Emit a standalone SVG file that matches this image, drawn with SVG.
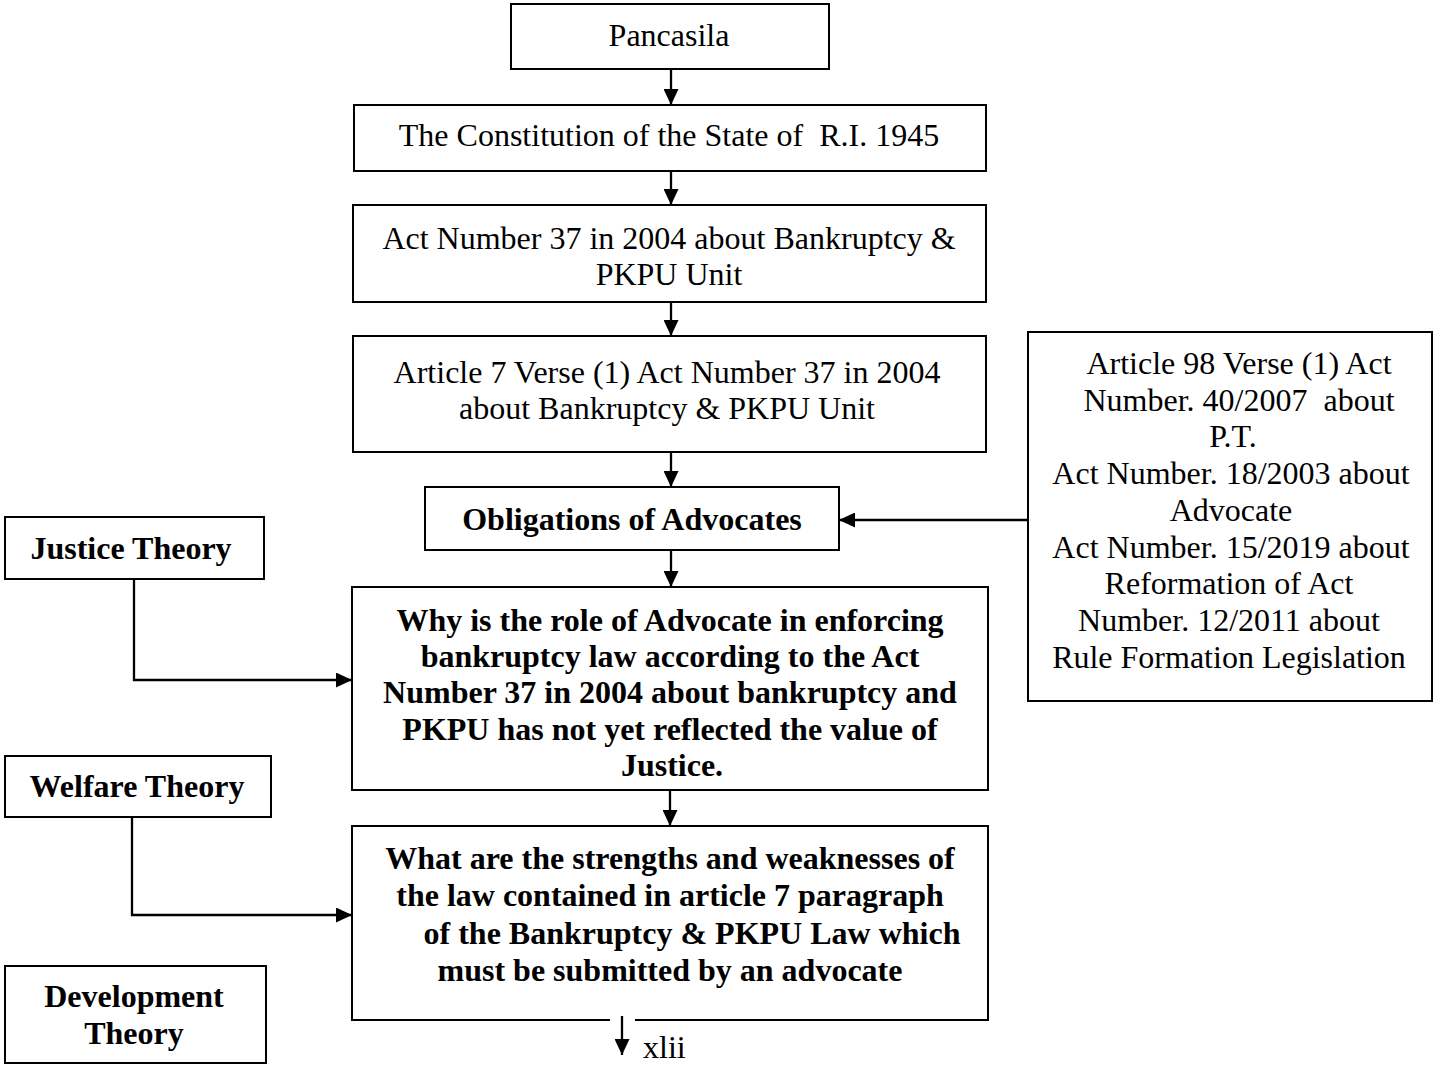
<svg xmlns="http://www.w3.org/2000/svg" width="1433" height="1065" viewBox="0 0 1433 1065">
<defs>
<marker id="ah" viewBox="0 0 16 15" refX="16" refY="7.5" markerWidth="16" markerHeight="15" markerUnits="userSpaceOnUse" orient="auto">
<path d="M0,0 L16,7.5 L0,15 Z" fill="#000"/>
</marker>
<style>
.box{fill:#fff;stroke:#000;stroke-width:2}
.t{font-family:"Liberation Serif","Times New Roman",serif;font-size:32px;fill:#000;text-anchor:middle;white-space:pre}
.b{font-weight:bold}
.c{fill:none;stroke:#000;stroke-width:2.3}
</style>
</defs>
<rect width="1433" height="1065" fill="#fff"/>
<g id="pancasila"><rect class="box" x="511" y="4" width="318" height="65"/><text class="t" x="669" y="46">Pancasila</text></g>
<g id="constitution"><rect class="box" x="354" y="105" width="632" height="66"/><text class="t" x="669" y="146" xml:space="preserve">The Constitution of the State of  R.I. 1945</text></g>
<g id="act37"><rect class="box" x="353" y="205" width="633" height="97"/><text class="t" x="669" y="249">Act Number 37 in 2004 about Bankruptcy &amp;</text><text class="t" x="669" y="285">PKPU Unit</text></g>
<g id="article7"><rect class="box" x="353" y="336" width="633" height="116"/><text class="t" x="667" y="383">Article 7 Verse (1) Act Number 37 in 2004</text><text class="t" x="667" y="419">about Bankruptcy &amp; PKPU Unit</text></g>
<g id="obligations"><rect class="box" x="425" y="487" width="414" height="63"/><text class="t b" x="632" y="530">Obligations of Advocates</text></g>
<g id="why"><rect class="box" x="352" y="587" width="636" height="203"/>
<text class="t b" x="670" y="631">Why is the role of Advocate in enforcing</text>
<text class="t b" x="670" y="667">bankruptcy law according to the Act</text>
<text class="t b" x="670" y="703">Number 37 in 2004 about bankruptcy and</text>
<text class="t b" x="670" y="740">PKPU has not yet reflected the value of</text>
<text class="t b" x="672" y="776">Justice.</text></g>
<g id="what"><path class="c" style="stroke-width:2" d="M610,1020 H352 V826 H988 V1020 H635"/>
<text class="t b" x="670" y="869">What are the strengths and weaknesses of</text>
<text class="t b" x="670" y="906">the law contained in article 7 paragraph</text>
<text class="t b" x="692" y="944">of the Bankruptcy &amp; PKPU Law which</text>
<text class="t b" x="670" y="981">must be submitted by an advocate</text></g>
<g id="regulations"><rect class="box" x="1028" y="332" width="404" height="369"/>
<text class="t" x="1239" y="374">Article 98 Verse (1) Act</text>
<text class="t" x="1239" y="411" xml:space="preserve">Number. 40/2007  about</text>
<text class="t" x="1233" y="447">P.T.</text>
<text class="t" x="1231" y="484">Act Number. 18/2003 about</text>
<text class="t" x="1231" y="521">Advocate</text>
<text class="t" x="1231" y="558">Act Number. 15/2019 about</text>
<text class="t" x="1229" y="594">Reformation of Act</text>
<text class="t" x="1229" y="631">Number. 12/2011 about</text>
<text class="t" x="1229" y="668">Rule Formation Legislation</text></g>
<g id="justice"><rect class="box" x="5" y="517" width="259" height="62"/><text class="t b" x="131" y="559">Justice Theory</text></g>
<g id="welfare"><rect class="box" x="5" y="756" width="266" height="61"/><text class="t b" x="137" y="797">Welfare Theory</text></g>
<g id="development"><rect class="box" x="5" y="966" width="261" height="97"/><text class="t b" x="134" y="1007">Development</text><text class="t b" x="134" y="1044">Theory</text></g>
<g id="pagenum"><text class="t" x="643" y="1058" style="text-anchor:start">xlii</text></g>
<g id="connectors">
<line class="c" x1="671" y1="69" x2="671" y2="105" marker-end="url(#ah)"/>
<line class="c" x1="671" y1="171" x2="671" y2="205" marker-end="url(#ah)"/>
<line class="c" x1="671" y1="302" x2="671" y2="336" marker-end="url(#ah)"/>
<line class="c" x1="671" y1="452" x2="671" y2="487" marker-end="url(#ah)"/>
<line class="c" x1="671" y1="550" x2="671" y2="587" marker-end="url(#ah)"/>
<line class="c" x1="670" y1="790" x2="670" y2="826" marker-end="url(#ah)"/>
<line class="c" x1="1028" y1="520" x2="839" y2="520" marker-end="url(#ah)"/>
<polyline class="c" points="134,579 134,680 352,680" marker-end="url(#ah)"/>
<polyline class="c" points="132,817 132,915 352,915" marker-end="url(#ah)"/>
<line class="c" x1="622" y1="1016" x2="622" y2="1055" marker-end="url(#ah)"/>
</g>
</svg>
